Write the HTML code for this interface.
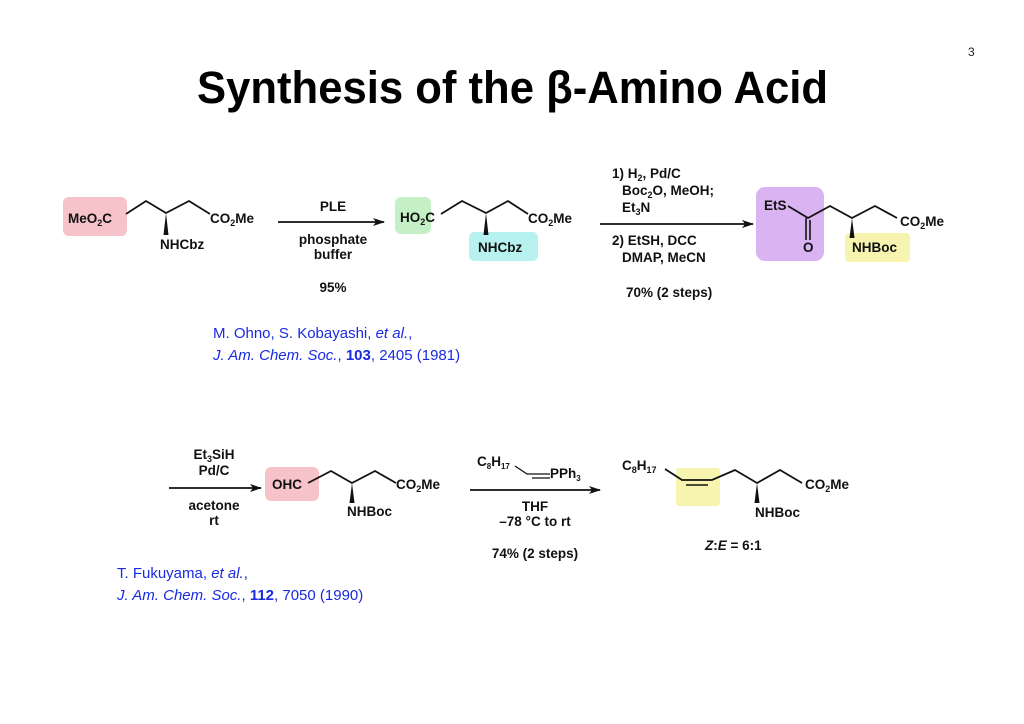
<!DOCTYPE html>
<html><head><meta charset="utf-8"><style>
html,body{margin:0;padding:0;background:#fff}
svg{display:block}
text{font-family:"Liberation Sans",Arial,sans-serif}
.b{font-weight:bold;font-size:13.5px;fill:#111}
.c{font-size:15px;fill:#1a2ae0}
</style></head><body>
<svg width="1024" height="724" viewBox="0 0 1024 724" xmlns="http://www.w3.org/2000/svg">
<defs><marker id="ah" markerWidth="12" markerHeight="8" refX="11" refY="4" orient="auto" markerUnits="userSpaceOnUse"><path d="M0,0 L12,4 L0,8 L3,4 Z" fill="#111"/></marker></defs>
<text x="968" y="56" font-size="12" fill="#222">3</text>
<text x="197" y="103" font-size="45" font-weight="bold" textLength="631" lengthAdjust="spacingAndGlyphs" fill="#000">Synthesis of the β-Amino Acid</text>

<!-- Row1 compound 1 -->
<rect x="63" y="197" width="64" height="39" rx="6" fill="#f6c3c8"/>
<text class="b" x="68" y="223">MeO<tspan font-size="9" dy="3">2</tspan><tspan dy="-3">C</tspan></text>
<polyline points="126,214 146,201 166,213 189,201 210,214" fill="none" stroke="#111" stroke-width="1.8"/>
<path d="M166,213 L163.5,235 L168.5,235 Z" fill="#111"/>
<text class="b" x="160" y="249">NHCbz</text>
<text class="b" x="210" y="223">CO<tspan font-size="9" dy="3">2</tspan><tspan dy="-3">Me</tspan></text>

<line x1="278" y1="222" x2="384" y2="222" stroke="#111" stroke-width="1.8" marker-end="url(#ah)"/>
<text class="b" x="333" y="211" text-anchor="middle">PLE</text>
<text class="b" x="333" y="244" text-anchor="middle">phosphate</text>
<text class="b" x="333" y="259" text-anchor="middle">buffer</text>
<text class="b" x="333" y="292" text-anchor="middle">95%</text>

<!-- compound 2 -->
<rect x="395" y="197" width="36" height="37" rx="6" fill="#c5f0c5"/>
<rect x="469" y="232" width="69" height="29" rx="5" fill="#b8f2f0"/>
<text class="b" x="400" y="222">HO<tspan font-size="9" dy="3">2</tspan><tspan dy="-3">C</tspan></text>
<polyline points="441,214 462,201 486,213 508,201 528,214" fill="none" stroke="#111" stroke-width="1.8"/>
<path d="M486,213 L483.5,235 L488.5,235 Z" fill="#111"/>
<text class="b" x="478" y="252">NHCbz</text>
<text class="b" x="528" y="223">CO<tspan font-size="9" dy="3">2</tspan><tspan dy="-3">Me</tspan></text>

<line x1="600" y1="224" x2="753" y2="224" stroke="#111" stroke-width="1.8" marker-end="url(#ah)"/>
<text class="b" x="612" y="178">1) H<tspan font-size="9" dy="3">2</tspan><tspan dy="-3">, Pd/C</tspan></text>
<text class="b" x="622" y="195">Boc<tspan font-size="9" dy="3">2</tspan><tspan dy="-3">O, MeOH;</tspan></text>
<text class="b" x="622" y="212">Et<tspan font-size="9" dy="3">3</tspan><tspan dy="-3">N</tspan></text>
<text class="b" x="612" y="245">2) EtSH, DCC</text>
<text class="b" x="622" y="262">DMAP, MeCN</text>
<text class="b" x="626" y="297">70% (2 steps)</text>

<!-- compound 3 -->
<rect x="756" y="187" width="68" height="74" rx="9" fill="#d9b3f2"/>
<rect x="845" y="233" width="65" height="29" rx="4" fill="#f7f4b0"/>
<text class="b" x="764" y="210">EtS</text>
<polyline points="788,206 808,218 830,206 852,218 875,206 897,218" fill="none" stroke="#111" stroke-width="1.8"/>
<line x1="806" y1="218" x2="806" y2="240" stroke="#111" stroke-width="1.6"/>
<line x1="810" y1="220" x2="810" y2="240" stroke="#111" stroke-width="1.6"/>
<text class="b" x="803" y="252">O</text>
<path d="M852,218 L849.5,238 L854.5,238 Z" fill="#111"/>
<text class="b" x="852" y="252">NHBoc</text>
<text class="b" x="900" y="226">CO<tspan font-size="9" dy="3">2</tspan><tspan dy="-3">Me</tspan></text>

<text class="c" x="213" y="338">M. Ohno, S. Kobayashi, <tspan font-style="italic">et al.</tspan>,</text>
<text class="c" x="213" y="360"><tspan font-style="italic">J. Am. Chem. Soc.</tspan>, <tspan font-weight="bold">103</tspan>, 2405 (1981)</text>

<!-- Row 2 -->
<line x1="169" y1="488" x2="261" y2="488" stroke="#111" stroke-width="1.8" marker-end="url(#ah)"/>
<text class="b" x="214" y="459" text-anchor="middle">Et<tspan font-size="9" dy="3">3</tspan><tspan dy="-3">SiH</tspan></text>
<text class="b" x="214" y="475" text-anchor="middle">Pd/C</text>
<text class="b" x="214" y="510" text-anchor="middle">acetone</text>
<text class="b" x="214" y="525" text-anchor="middle">rt</text>

<rect x="265" y="467" width="54" height="34" rx="6" fill="#f6c3c8"/>
<text class="b" x="272" y="489">OHC</text>
<polyline points="308,483 331,471 352,483 375,471 396,483" fill="none" stroke="#111" stroke-width="1.8"/>
<path d="M352,483 L349.5,503 L354.5,503 Z" fill="#111"/>
<text class="b" x="347" y="516">NHBoc</text>
<text class="b" x="396" y="489">CO<tspan font-size="9" dy="3">2</tspan><tspan dy="-3">Me</tspan></text>

<line x1="470" y1="490" x2="600" y2="490" stroke="#111" stroke-width="1.8" marker-end="url(#ah)"/>
<text class="b" x="477" y="466" font-size="11">C<tspan font-size="8" dy="3">8</tspan><tspan dy="-3">H</tspan><tspan font-size="8" dy="3">17</tspan></text>
<polyline points="515,466 527,474 550,474" fill="none" stroke="#111" stroke-width="1.3"/>
<line x1="532" y1="478" x2="550" y2="478" stroke="#111" stroke-width="1.3"/>
<text class="b" x="550" y="478" font-size="11">PPh<tspan font-size="8" dy="3">3</tspan></text>
<text class="b" x="535" y="511" text-anchor="middle">THF</text>
<text class="b" x="535" y="526" text-anchor="middle">–78 °C to rt</text>
<text class="b" x="535" y="558" text-anchor="middle">74% (2 steps)</text>

<rect x="676" y="468" width="44" height="38" rx="3" fill="#f7f4b0"/>
<text class="b" x="622" y="470">C<tspan font-size="9" dy="3">8</tspan><tspan dy="-3">H</tspan><tspan font-size="9" dy="3">17</tspan></text>
<polyline points="665,469 682,480 712,480 735,470 757,483 780,470 802,483" fill="none" stroke="#111" stroke-width="1.8"/>
<line x1="686" y1="485" x2="708" y2="485" stroke="#111" stroke-width="1.6"/>
<path d="M757,483 L754.5,503 L759.5,503 Z" fill="#111"/>
<text class="b" x="755" y="517">NHBoc</text>
<text class="b" x="805" y="489">CO<tspan font-size="9" dy="3">2</tspan><tspan dy="-3">Me</tspan></text>
<text class="b" x="705" y="550"><tspan font-style="italic">Z</tspan>:<tspan font-style="italic">E</tspan> = 6:1</text>

<text class="c" x="117" y="578">T. Fukuyama, <tspan font-style="italic">et al.</tspan>,</text>
<text class="c" x="117" y="600"><tspan font-style="italic">J. Am. Chem. Soc.</tspan>, <tspan font-weight="bold">112</tspan>, 7050 (1990)</text>
</svg>
</body></html>
